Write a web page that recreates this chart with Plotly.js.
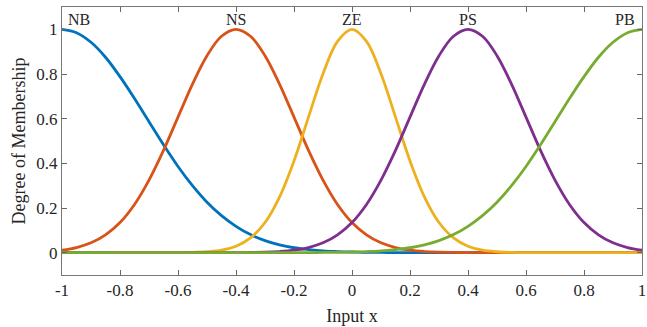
<!DOCTYPE html>
<html>
<head>
<meta charset="utf-8">
<script src="https://cdn.plot.ly/plotly-3.0.1.min.js"></script>
<style>html,body{margin:0;padding:0;background:#fff;}#chart{width:647px;height:327px;}</style>
</head>
<body>
<div id="chart"></div>
<script>
// x sample points (Input x)
const inputX = [-1,-0.95,-0.9,-0.85,-0.8,-0.75,-0.7,-0.65,-0.6,-0.55,-0.5,-0.45,-0.4,-0.35,-0.3,-0.25,-0.2,-0.15,-0.1,-0.05,0,
  0.05,0.1,0.15,0.2,0.25,0.3,0.35,0.4,0.45,0.5,0.55,0.6,0.65,0.7,0.75,0.8,0.85,0.9,0.95,1];
// membership degrees
const NB = [1,0.985,0.942,0.875,0.788,0.690,0.586,0.483,0.386,0.300,0.226,0.166,0.118,0.081,0.054,0.035,0.022,0.014,0.008,0.005,0.003,
  0.001,0.001,0,0,0,0,0,0,0,0,0,0,0,0,0,0,0,0,0,0];
const NS = [0.011,0.023,0.044,0.080,0.135,0.216,0.325,0.458,0.607,0.755,0.882,0.969,1,0.969,0.882,0.755,0.607,0.458,0.325,0.216,0.135,
  0.080,0.044,0.023,0.011,0.005,0.002,0.001,0,0,0,0,0,0,0,0,0,0,0,0,0];
const ZE = [0,0,0,0,0,0,0,0,0,0.001,0.004,0.011,0.029,0.066,0.135,0.249,0.411,0.607,0.801,0.946,1,
  0.946,0.801,0.607,0.411,0.249,0.135,0.066,0.029,0.011,0.004,0.001,0,0,0,0,0,0,0,0,0];
const PS = [0,0,0,0,0,0,0,0,0,0,0,0,0,0.001,0.002,0.005,0.011,0.023,0.044,0.080,0.135,
  0.216,0.325,0.458,0.607,0.755,0.882,0.969,1,0.969,0.882,0.755,0.607,0.458,0.325,0.216,0.135,0.080,0.044,0.023,0.011];
const PB = [0,0,0,0,0,0,0,0,0,0,0,0,0,0,0,0,0,0,0,0.001,0.001,
  0.003,0.005,0.008,0.014,0.022,0.035,0.054,0.081,0.118,0.166,0.226,0.300,0.386,0.483,0.586,0.690,0.788,0.875,0.942,0.985,1].slice(1);
const seriesNames = ["NB","NS","ZE","PS","PB"];
const seriesData = [NB, NS, ZE, PS, PB];
const xTickVals = [-1,-0.8,-0.6,-0.4,-0.2,0,0.2,0.4,0.6,0.8,1];
const xTickText = ["-1","-0.8","-0.6","-0.4","-0.2","0","0.2","0.4","0.6","0.8","1"];
const yTickVals = [0,0.2,0.4,0.6,0.8,1];
const yTickText = ["0","0.2","0.4","0.6","0.8","1"];

const colors = ["#0072BD","#D95319","#EDB120","#7E2F8E","#77AC30"];
const labelPos = [[-0.94,1.045],[-0.4,1.045],[0,1.045],[0.4,1.045],[0.94,1.045]];

const traces = seriesData.map((ys, i) => ({
  x: inputX, y: ys, type: "scatter", mode: "lines", name: seriesNames[i],
  line: {color: colors[i], width: 2.8, shape: "spline", smoothing: 1},
  hoverinfo: "skip"
}));

const font = {family: "Liberation Serif, Times New Roman, serif", color: "#262626"};
const layout = {
  width: 647, height: 327,
  margin: {l: 62, r: 5, t: 7, b: 52},
  paper_bgcolor: "#fff", plot_bgcolor: "#fff",
  showlegend: false,
  font: Object.assign({size: 17}, font),
  xaxis: {
    range: [-1, 1], tickvals: xTickVals, ticktext: xTickText,
    ticks: "inside", ticklen: 5, tickcolor: "#666", tickwidth: 1,
    showline: true, linecolor: "#777", linewidth: 1, mirror: "ticks",
    showgrid: false, zeroline: false, ticklabeloverflow: "allow",
    tickfont: Object.assign({size: 17}, font),
    title: {text: "Input x", font: Object.assign({size: 18}, font), standoff: 9}
  },
  yaxis: {
    range: [-0.1, 1.1], tickvals: yTickVals, ticktext: yTickText,
    ticks: "inside", ticklen: 5, tickcolor: "#666", tickwidth: 1,
    showline: true, linecolor: "#777", linewidth: 1, mirror: "ticks",
    showgrid: false, zeroline: false,
    tickfont: Object.assign({size: 17}, font),
    title: {text: "Degree of Membership", font: Object.assign({size: 18}, font), standoff: 6}
  },
  annotations: seriesNames.map((n, i) => ({
    x: labelPos[i][0], y: labelPos[i][1], xref: "x", yref: "y",
    text: n, showarrow: false, font: Object.assign({size: 16}, font),
    xanchor: "center", yanchor: "middle"
  }))
};
Plotly.newPlot("chart", traces, layout, {staticPlot: true, displayModeBar: false});
</script>
</body>
</html>
